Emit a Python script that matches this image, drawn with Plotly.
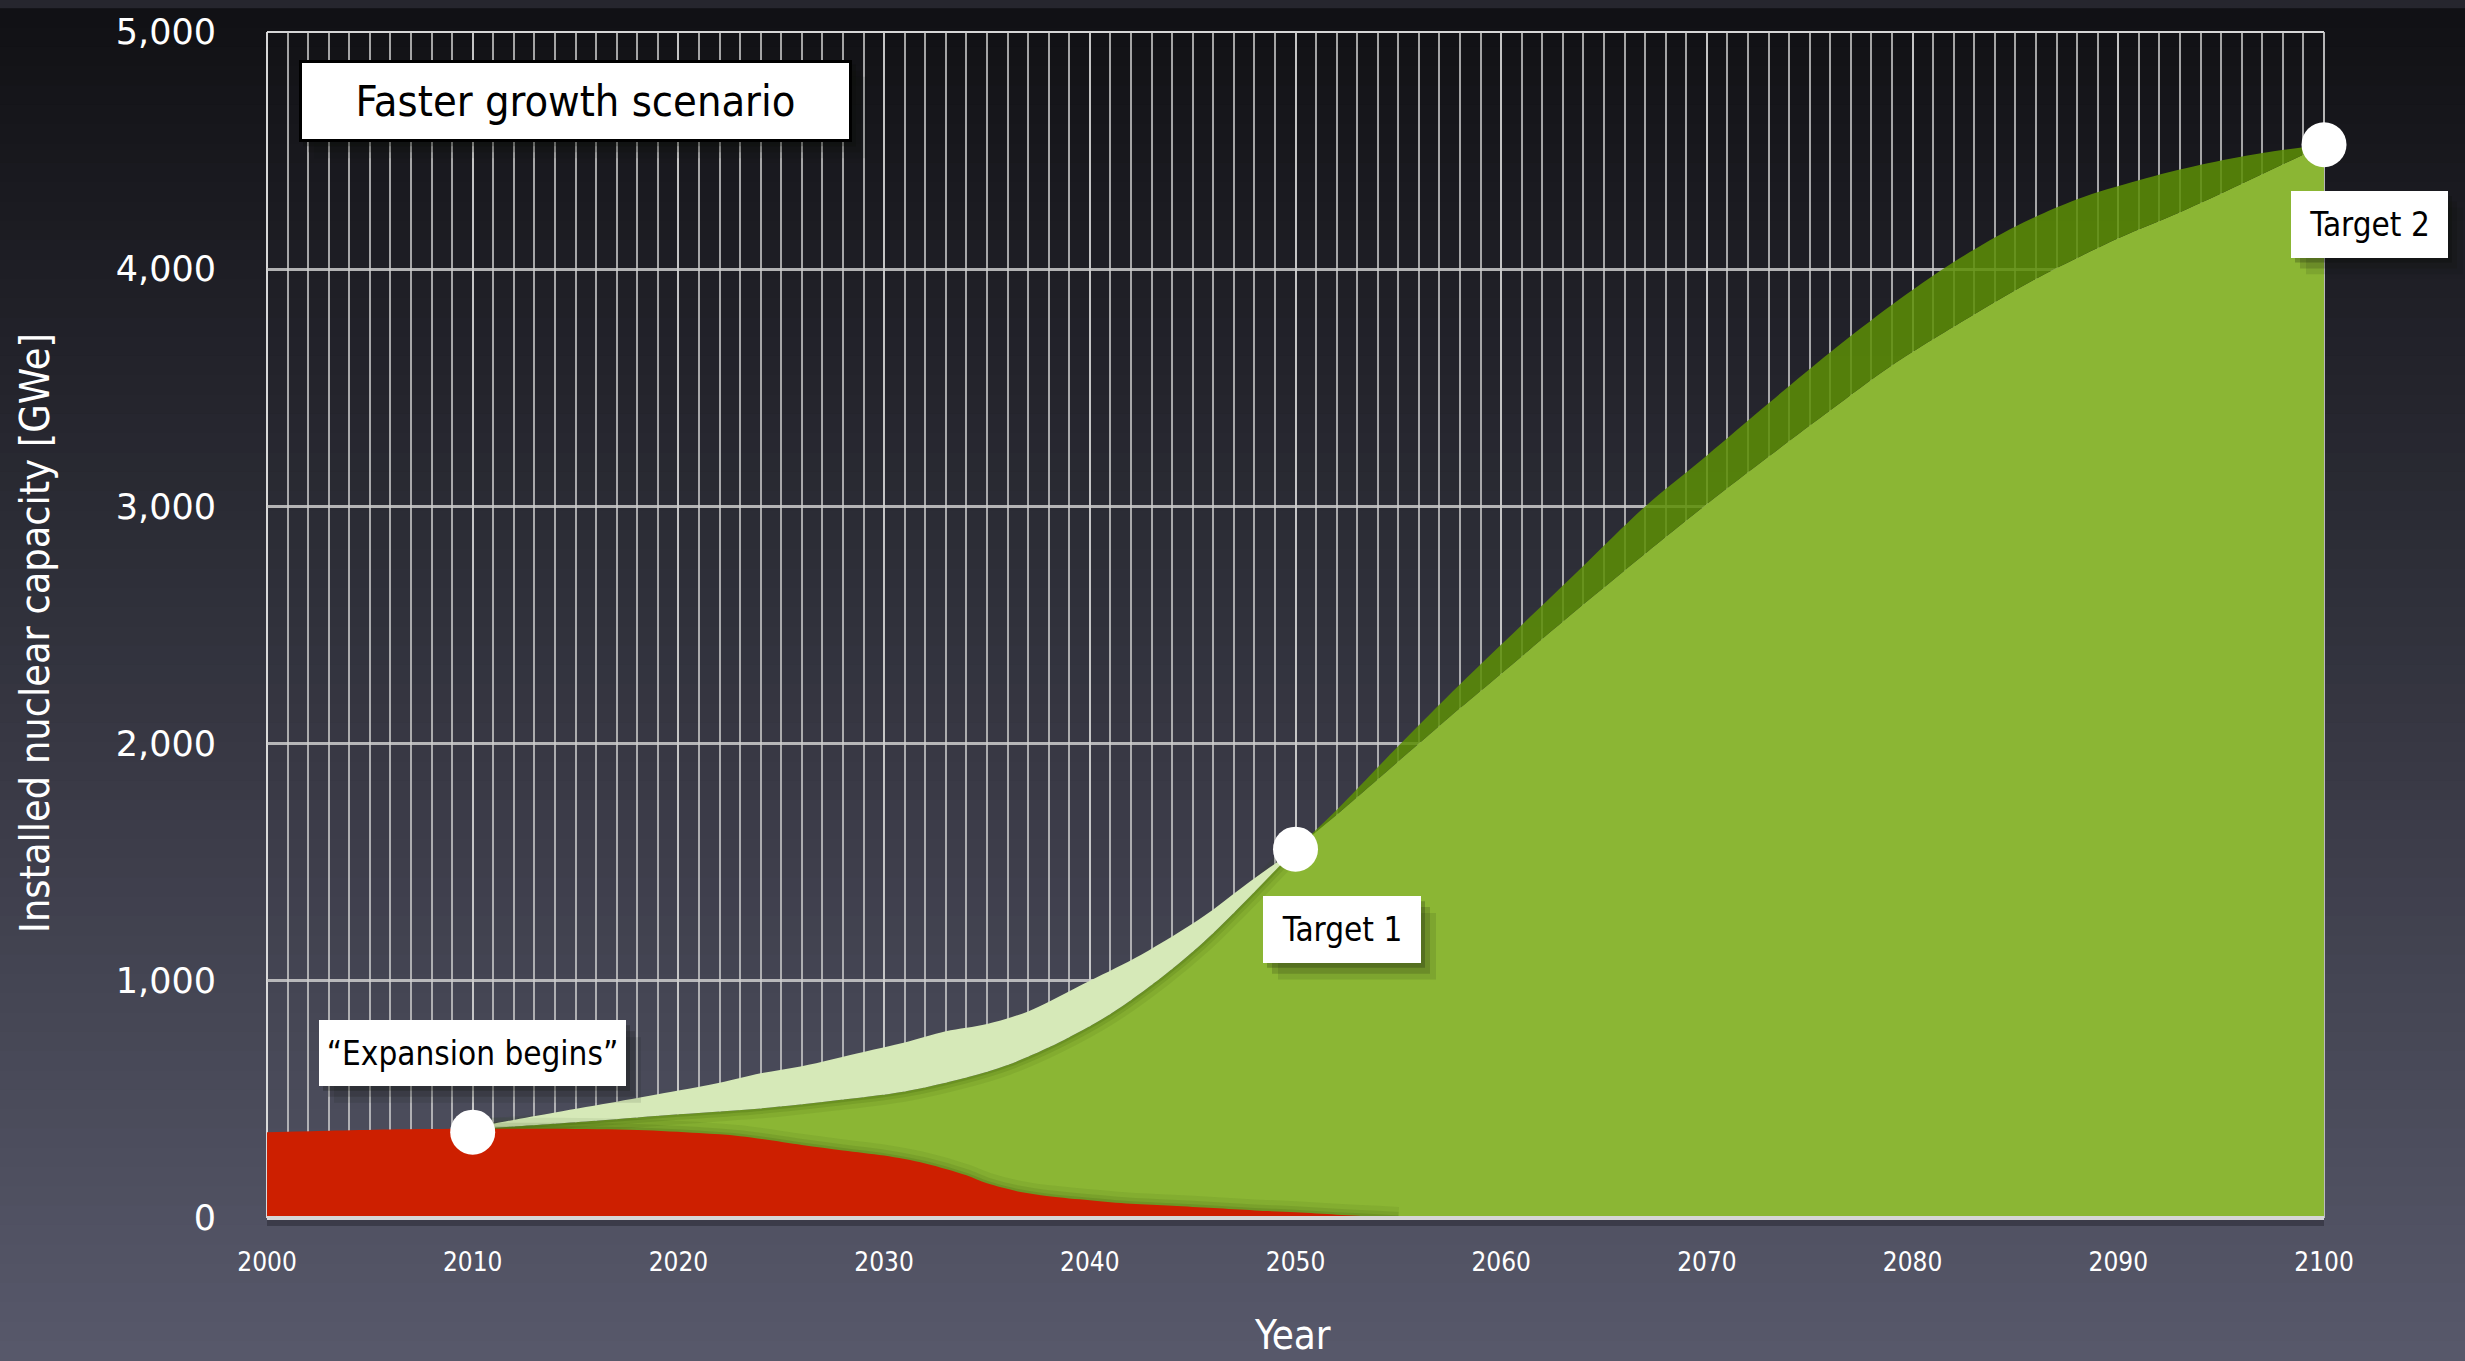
import plotly.graph_objects as go

# ---- data (GWe installed) ----
red_years = [2000, 2003, 2006, 2010, 2014, 2018, 2021, 2023, 2026, 2028, 2030, 2032,
             2034, 2035, 2036.5, 2038, 2040, 2042, 2044, 2046, 2048, 2050, 2052, 2054,
             2055, 2100]
red_vals = [362, 368, 373, 376, 376, 371, 358, 345, 308, 285, 263, 230,
            180, 146, 112, 92, 75, 60, 52, 42, 32, 24, 14, 5,
            0, 0]

base_years = [2010, 2012, 2016, 2020, 2024, 2027.5, 2031, 2034, 2036, 2038.5, 2041,
              2043.5, 2045.5, 2047.5, 2050, 2052, 2054, 2056, 2058, 2060, 2063, 2066,
              2070, 2073, 2076, 2079, 2083, 2086, 2090, 2093, 2096, 2100]
base_vals = [376, 386, 410, 437, 462, 494, 533, 592, 645, 740, 860,
             1015, 1160, 1330, 1555, 1700, 1850, 2000, 2150, 2295, 2515, 2730,
             3010, 3210, 3405, 3595, 3810, 3960, 4130, 4240, 4360, 4525]

early_upper_years = [2010, 2011, 2014, 2017, 2020, 2022, 2024, 2026, 2029, 2031, 2033,
                     2035, 2037, 2040, 2042.5, 2045.5, 2047.5, 2050]
early_upper_vals = [376, 397, 445, 490, 537, 570, 610, 640, 700, 740, 787,
                    818, 871, 1000, 1110, 1270, 1400, 1555]

late_upper_years = [2050, 2052, 2055, 2058, 2061, 2064, 2067, 2070, 2073, 2076, 2079,
                    2082, 2085, 2088, 2091, 2094, 2097, 2100]
late_upper_vals = [1555, 1720, 1990, 2250, 2500, 2750, 3000, 3215, 3435, 3650, 3850,
                   4030, 4180, 4295, 4375, 4440, 4490, 4525]

milestone_years = [2010, 2050, 2100]
milestone_vals = [362, 1555, 4525]

x_ticks = [2000, 2010, 2020, 2030, 2040, 2050, 2060, 2070, 2080, 2090, 2100]
y_ticks = [0, 1000, 2000, 3000, 4000, 5000]

# ---- styling ----
W, H = 2465, 1361
L, R, T, B = 267, 141, 24, 143
PW, PH = W - L - R, H - T - B

RED = "#cd1f00"
GREEN = "#8bb634"
LIGHT = "#d6e9b8"
DARK = "rgba(92,142,6,0.86)"
COND = "DejaVu Sans Condensed, DejaVu Sans, sans-serif"
SPLINE = dict(shape="spline", smoothing=0.9)


def pxx(p):
    return (p - L) / PW


def pxy(p):
    return (H - B - p) / PH


fig = go.Figure()

# bright green: total capacity, lower path
fig.add_trace(go.Scatter(x=base_years, y=base_vals, mode="lines", fill="tozeroy",
                         fillcolor=GREEN, line=dict(width=0, **SPLINE), hoverinfo="skip"))

early_x = [yr for yr in base_years if yr <= 2050]
early_y = [v for yr, v in zip(base_years, base_vals) if yr <= 2050]
late_x = [yr for yr in base_years if yr >= 2050]
late_y = [v for yr, v in zip(base_years, base_vals) if yr >= 2050]

# soft shade under the light band
for w, a in [(20, 0.08), (11, 0.12), (5, 0.16)]:
    fig.add_trace(go.Scatter(x=early_x, y=early_y, mode="lines",
                             line=dict(width=w, color=f"rgba(40,70,0,{a})", **SPLINE),
                             hoverinfo="skip"))

# light band (faster near-term build)
fig.add_trace(go.Scatter(x=early_x, y=early_y, mode="lines",
                         line=dict(width=0, **SPLINE), hoverinfo="skip"))
fig.add_trace(go.Scatter(x=early_upper_years, y=early_upper_vals, mode="lines", fill="tonexty",
                         fillcolor=LIGHT, line=dict(width=0, **SPLINE), hoverinfo="skip"))

# dark band (upper path after 2050)
fig.add_trace(go.Scatter(x=late_x, y=late_y, mode="lines",
                         line=dict(width=0, **SPLINE), hoverinfo="skip"))
fig.add_trace(go.Scatter(x=late_upper_years, y=late_upper_vals, mode="lines", fill="tonexty",
                         fillcolor=DARK, line=dict(width=0, **SPLINE), hoverinfo="skip"))

# shadow cast by the existing fleet onto the new build
sh_x = [yr for yr in red_years if 2010 <= yr <= 2055]
sh_y = [v for yr, v in zip(red_years, red_vals) if 2010 <= yr <= 2055]
for w, a in [(22, 0.07), (12, 0.10), (5, 0.13)]:
    fig.add_trace(go.Scatter(x=sh_x, y=sh_y, mode="lines",
                             line=dict(width=w, color=f"rgba(35,60,0,{a})", **SPLINE),
                             hoverinfo="skip"))

# existing reactors
fig.add_trace(go.Scatter(x=red_years, y=red_vals, mode="lines", fill="tozeroy",
                         fillcolor=RED, line=dict(width=0, **SPLINE), hoverinfo="skip"))

# milestones
fig.add_trace(go.Scatter(x=milestone_years, y=milestone_vals, mode="markers",
                         marker=dict(size=45, color="white", line=dict(width=0)),
                         cliponaxis=False, hoverinfo="skip"))

# ---- background gradient ----
shapes = []
top_c = (16, 16, 20)
bot_c = (88, 89, 107)
n = 70
for i in range(n):
    t = (i + 0.5) / n
    c = tuple(int(round(top_c[k] + (bot_c[k] - top_c[k]) * t)) for k in range(3))
    y_top = H * i / n
    y_bot = H * (i + 1) / n + 1
    shapes.append(dict(type="rect", xref="paper", yref="paper", layer="below",
                       x0=pxx(0), x1=pxx(W), y0=pxy(y_bot), y1=pxy(y_top),
                       fillcolor="rgb(%d,%d,%d)" % c, line=dict(width=0)))

# plot frame
frame = "rgba(225,225,225,0.95)"
shapes += [
    dict(type="line", xref="paper", yref="paper", layer="below", x0=0, x1=1, y0=1, y1=1,
         line=dict(color=frame, width=2)),
    dict(type="line", xref="paper", yref="paper", layer="below", x0=0, x1=0, y0=0, y1=1,
         line=dict(color=frame, width=2)),
    dict(type="line", xref="paper", yref="paper", layer="below", x0=1, x1=1, y0=0, y1=1,
         line=dict(color="rgba(200,200,200,0.9)", width=2)),
    dict(type="rect", xref="paper", yref="paper", layer="above", x0=0, x1=1,
         y0=pxy(1226), y1=pxy(1219), fillcolor="rgba(20,20,30,0.35)", line=dict(width=0)),
    dict(type="line", xref="paper", yref="paper", layer="above", x0=0, x1=1, y0=0, y1=0,
         line=dict(color="#d6d6d6", width=4)),
]


def box_shadow(x0, y0, x1, y1):
    out = []
    for dx, dy, a in [(4, 5, 0.22), (9, 11, 0.16), (15, 17, 0.10)]:
        out.append(dict(type="rect", xref="paper", yref="paper", layer="above",
                        x0=pxx(x0 + dx), x1=pxx(x1 + dx), y0=pxy(y1 + dy), y1=pxy(y0 + dy),
                        fillcolor=f"rgba(10,15,5,{a})", line=dict(width=0)))
    return out


boxes = [
    ("Faster growth scenario", 299, 52, 852, 134, 43, 3),
    ("\u201cExpansion begins\u201d", 319, 1019, 626, 1085, 33, 0),
    ("Target 1", 1263, 894, 1421, 961, 33, 0),
    ("Target 2", 2291, 184, 2448, 251, 33, 0),
]

annotations = []
for text, x0, y0, x1, y1, fs, bw in boxes:
    shapes += box_shadow(x0, y0, x1, y1)
    annotations.append(dict(
        text=text, xref="paper", yref="paper", x=pxx(x0), y=pxy(y0),
        xanchor="left", yanchor="top", showarrow=False,
        width=x1 - x0 - 2 * bw, height=y1 - y0 - 2 * bw, borderpad=0,
        bgcolor="white", bordercolor="black", borderwidth=bw,
        align="center", valign="middle",
        font=dict(family=COND, size=fs, color="black")))

annotations.append(dict(text="Installed nuclear capacity [GWe]", xref="paper", yref="paper",
                        x=pxx(35), y=pxy(629), textangle=-90, showarrow=False,
                        xanchor="center", yanchor="middle",
                        font=dict(family=COND, size=41, color="white")))
annotations.append(dict(text="Year", xref="paper", yref="paper",
                        x=pxx(1292), y=pxy(1336), showarrow=False,
                        xanchor="center", yanchor="middle",
                        font=dict(family=COND, size=40, color="white")))

grid_v = "rgba(205,205,205,0.78)"
grid_h = "rgba(205,205,205,0.85)"

fig.update_layout(
    width=W, height=H, autosize=False,
    margin=dict(l=L, r=R, t=T, b=B, pad=0),
    paper_bgcolor="#26262e",
    plot_bgcolor="rgba(0,0,0,0)",
    showlegend=False,
    shapes=shapes,
    annotations=annotations,
    xaxis=dict(range=[2000, 2100], tickvals=x_ticks, ticktext=[str(v) for v in x_ticks],
               showgrid=True, gridcolor=grid_v, gridwidth=2,
               minor=dict(dtick=1, tick0=2000, showgrid=True, gridcolor=grid_v, gridwidth=2),
               showline=False, zeroline=False, ticks="", ticklabelstandoff=26,
               tickfont=dict(family=COND, size=26, color="white"), fixedrange=True),
    yaxis=dict(range=[0, 5000], tickvals=y_ticks, ticktext=[f"{v:,}" for v in y_ticks],
               showgrid=True, gridcolor=grid_h, gridwidth=3,
               showline=False, zeroline=False, ticks="", ticklabelstandoff=50,
               tickfont=dict(family="DejaVu Sans, sans-serif", size=35, color="white"),
               fixedrange=True),
)

fig.write_html("out.html")
